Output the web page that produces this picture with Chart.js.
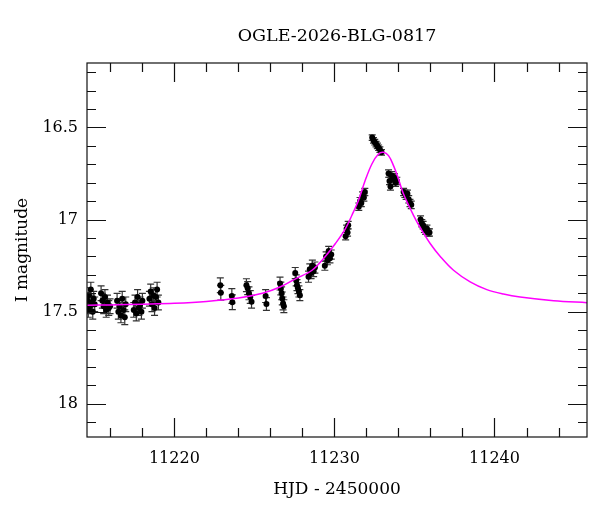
<!DOCTYPE html>
<html>
<head>
<meta charset="utf-8">
<script src="https://cdn.jsdelivr.net/npm/chart.js@4.4.1/dist/chart.umd.min.js"></script>
<style>
html, body { margin: 0; padding: 0; background: #fff; }
</style>
</head>
<body>
<canvas id="lc" width="600" height="512"></canvas>
<script>
// observations: HJD - 2450000, I mag, error
const obsT = [
    11214.58, 11214.62, 11214.66, 11214.72, 11214.78, 11214.84, 11214.90, 11214.96, 11215.02,
    11215.42, 11215.50, 11215.58, 11215.66, 11215.74, 11215.82, 11215.90, 11215.98,
    11216.42, 11216.50, 11216.58, 11216.66, 11216.74, 11216.82, 11216.90, 11216.96,
    11217.46, 11217.54, 11217.62, 11217.70, 11217.78, 11217.86, 11217.94, 11218.00,
    11218.44, 11218.52, 11218.60, 11218.68, 11218.76, 11218.84, 11218.92, 11219.00,
    11222.87, 11222.90, 11223.59, 11223.62,
    11224.50, 11224.58, 11224.66, 11224.74, 11224.82,
    11225.70, 11225.75,
    11226.60, 11226.65, 11226.70, 11226.74, 11226.79, 11226.84,
    11227.55, 11227.61, 11227.66, 11227.72, 11227.78, 11227.84,
    11228.38, 11228.46, 11228.54, 11228.62, 11228.70, 11228.78,
    11229.40, 11229.48, 11229.56, 11229.64, 11229.72, 11229.80,
    11230.70, 11230.76, 11230.82, 11230.86,
    11231.52, 11231.60, 11231.68, 11231.76, 11231.84, 11231.90,
    11232.36, 11232.44, 11232.52, 11232.60, 11232.68, 11232.76, 11232.84, 11232.94,
    11233.38, 11233.44, 11233.50, 11233.58, 11233.66, 11233.74, 11233.82, 11233.90,
    11234.32, 11234.40, 11234.48, 11234.56, 11234.64, 11234.72, 11234.80,
    11235.38, 11235.46, 11235.54, 11235.62, 11235.70, 11235.78, 11235.86, 11235.94
];
const obsMag = [
    17.44, 17.49, 17.41, 17.47, 17.38, 17.45, 17.50, 17.43, 17.46,
    17.40, 17.44, 17.47, 17.42, 17.49, 17.45, 17.48, 17.47,
    17.44, 17.50, 17.47, 17.52, 17.43, 17.49, 17.53, 17.46,
    17.49, 17.45, 17.51, 17.42, 17.48, 17.46, 17.50, 17.44,
    17.43, 17.39, 17.46, 17.41, 17.48, 17.42, 17.38, 17.45,
    17.356, 17.397, 17.415, 17.449,
    17.356, 17.372, 17.40, 17.42, 17.446,
    17.415, 17.458,
    17.347, 17.374, 17.40, 17.428, 17.455, 17.47,
    17.29, 17.33, 17.356, 17.372, 17.39, 17.41,
    17.31, 17.27, 17.29, 17.25, 17.28, 17.26,
    17.25, 17.20, 17.22, 17.17, 17.21, 17.19,
    17.09, 17.05, 17.07, 17.03,
    16.93, 16.90, 16.91, 16.87, 16.88, 16.85,
    16.555, 16.57, 16.58, 16.59, 16.60, 16.61, 16.62, 16.635,
    16.75, 16.79, 16.82, 16.76, 16.78, 16.77, 16.80, 16.79,
    16.85, 16.86, 16.87, 16.86, 16.89, 16.91, 16.92,
    17.00, 17.02, 17.03, 17.05, 17.06, 17.05, 17.07, 17.07
];
const obsErr = [
    0.04, 0.04, 0.04, 0.04, 0.04, 0.04, 0.04, 0.04, 0.04,
    0.04, 0.04, 0.04, 0.04, 0.04, 0.04, 0.04, 0.04,
    0.04, 0.04, 0.04, 0.04, 0.04, 0.04, 0.04, 0.04,
    0.04, 0.04, 0.04, 0.04, 0.04, 0.04, 0.04, 0.04,
    0.04, 0.04, 0.04, 0.04, 0.04, 0.04, 0.04, 0.04,
    0.04, 0.04, 0.04, 0.04,
    0.035, 0.035, 0.035, 0.035, 0.035,
    0.035, 0.035,
    0.035, 0.035, 0.035, 0.035, 0.035, 0.035,
    0.03, 0.03, 0.03, 0.03, 0.03, 0.03,
    0.03, 0.03, 0.03, 0.03, 0.03, 0.03,
    0.025, 0.025, 0.025, 0.025, 0.025, 0.025,
    0.02, 0.02, 0.02, 0.02,
    0.02, 0.02, 0.02, 0.02, 0.02, 0.02,
    0.015, 0.015, 0.015, 0.015, 0.015, 0.015, 0.015, 0.015,
    0.02, 0.02, 0.02, 0.02, 0.02, 0.02, 0.02, 0.02,
    0.02, 0.02, 0.02, 0.02, 0.02, 0.02, 0.02,
    0.02, 0.02, 0.02, 0.02, 0.02, 0.02, 0.02, 0.02
];

// model light curve
const modelT = [
    11214.54, 11216, 11218, 11220, 11222, 11224, 11225.5, 11226.6, 11227.6, 11228.6,
    11229.43, 11230.06, 11230.68, 11231.1, 11231.5, 11231.92, 11232.34, 11232.75, 11233.06, 11233.38,
    11233.69, 11234.0, 11234.31, 11234.94, 11235.36, 11235.98, 11236.61, 11237.44, 11238.48, 11239.52,
    11240.56, 11241.6, 11243.7, 11245.78
];
const modelMag = [
    17.465, 17.463, 17.459, 17.454, 17.444, 17.426, 17.40, 17.366, 17.32, 17.275,
    17.20, 17.13, 17.05, 16.975, 16.896, 16.788, 16.698, 16.644, 16.635, 16.653,
    16.707, 16.779, 16.86, 16.977, 17.044, 17.13, 17.20, 17.275, 17.338, 17.38,
    17.404, 17.42, 17.44, 17.451
];

const xTickLabels = [11220, 11230, 11240];
const yTickLabels = [16.5, 17, 17.5, 18];
const titleText = 'OGLE-2026-BLG-0817';

const serif = "'DejaVu Serif', serif";

// error bars under the points
const errorBars = {
    id: 'errorBars',
    beforeDatasetsDraw(chart) {
        const { ctx, chartArea: a, scales: { x, y } } = chart;
        ctx.save();
        ctx.beginPath();
        ctx.rect(a.left, a.top, a.right - a.left, a.bottom - a.top);
        ctx.clip();
        ctx.strokeStyle = '#333';
        ctx.lineWidth = 1.2;
        obsT.forEach((t, i) => {
            const px = x.getPixelForValue(t);
            const y1 = y.getPixelForValue(obsMag[i] - obsErr[i]);
            const y2 = y.getPixelForValue(obsMag[i] + obsErr[i]);
            ctx.beginPath();
            ctx.moveTo(px, y1); ctx.lineTo(px, y2);
            ctx.moveTo(px - 3.5, y1); ctx.lineTo(px + 3.5, y1);
            ctx.moveTo(px - 3.5, y2); ctx.lineTo(px + 3.5, y2);
            ctx.stroke();
        });
        ctx.restore();
    }
};

// box with inward ticks on all four sides, title centred over the plot box
const frameTicks = {
    id: 'frameTicks',
    afterDraw(chart) {
        const { ctx, chartArea: a, scales: { x, y } } = chart;
        ctx.save();
        ctx.strokeStyle = '#111';
        ctx.lineWidth = 1.2;
        ctx.strokeRect(a.left, a.top, a.right - a.left, a.bottom - a.top);
        ctx.beginPath();
        for (let t = 11216; t <= 11244; t += 2) {
            const px = Math.round(x.getPixelForValue(t)) + 0.5;
            const len = t % 10 === 0 ? 19 : 9;
            ctx.moveTo(px, a.bottom); ctx.lineTo(px, a.bottom - len);
            ctx.moveTo(px, a.top); ctx.lineTo(px, a.top + len);
        }
        for (let k = 162; k <= 181; k++) {
            const py = Math.round(y.getPixelForValue(k / 10)) + 0.5;
            const len = k % 5 === 0 ? 19 : 9;
            ctx.moveTo(a.left, py); ctx.lineTo(a.left + len, py);
            ctx.moveTo(a.right, py); ctx.lineTo(a.right - len, py);
        }
        ctx.stroke();

        ctx.fillStyle = '#000';
        ctx.font = "17.5px " + serif;
        ctx.textAlign = 'center';
        ctx.textBaseline = 'middle';
        ctx.fillText(titleText, (a.left + a.right) / 2, 36);
        ctx.restore();
    }
};

new Chart(document.getElementById('lc').getContext('2d'), {
    type: 'scatter',
    data: {
        datasets: [{
            label: 'model',
            data: modelT.map((t, i) => ({ x: t, y: modelMag[i] })),
            showLine: true,
            borderColor: '#ff00ff',
            borderWidth: 1.5,
            pointRadius: 0,
            tension: 0.35,
            fill: false
        }, {
            label: 'OGLE',
            data: obsT.map((t, i) => ({ x: t, y: obsMag[i] })),
            backgroundColor: '#000',
            borderColor: '#000',
            borderWidth: 0,
            pointRadius: 3
        }]
    },
    options: {
        responsive: false,
        animation: false,
        layout: { padding: { left: 0, right: 13, top: 63, bottom: 0 } },
        scales: {
            x: {
                type: 'linear',
                min: 11214.54,
                max: 11245.78,
                afterBuildTicks: scale => { scale.ticks = xTickLabels.map(v => ({ value: v })); },
                afterFit: scale => { scale.height = 75; },
                grid: { display: false, drawTicks: false },
                border: { display: false },
                ticks: {
                    padding: 12,
                    color: '#000',
                    font: { family: serif, size: 16 },
                    callback: v => String(v)
                },
                title: {
                    display: true,
                    text: 'HJD - 2450000',
                    color: '#000',
                    font: { family: serif, size: 17 },
                    padding: { top: 4, bottom: 12 }
                }
            },
            y: {
                type: 'linear',
                reverse: true,
                min: 16.15,
                max: 18.18,
                afterBuildTicks: scale => { scale.ticks = yTickLabels.map(v => ({ value: v })); },
                afterFit: scale => { scale.width = 87; },
                grid: { display: false, drawTicks: false },
                border: { display: false },
                ticks: {
                    padding: 9,
                    color: '#000',
                    font: { family: serif, size: 16 },
                    callback: v => String(v)
                },
                title: {
                    display: true,
                    text: 'I magnitude',
                    color: '#000',
                    font: { family: serif, size: 17 },
                    padding: { top: 12, bottom: 4 }
                }
            }
        },
        plugins: {
            legend: { display: false },
            tooltip: { enabled: false },
            title: { display: false }
        }
    },
    plugins: [errorBars, frameTicks]
});
</script>
</body>
</html>
